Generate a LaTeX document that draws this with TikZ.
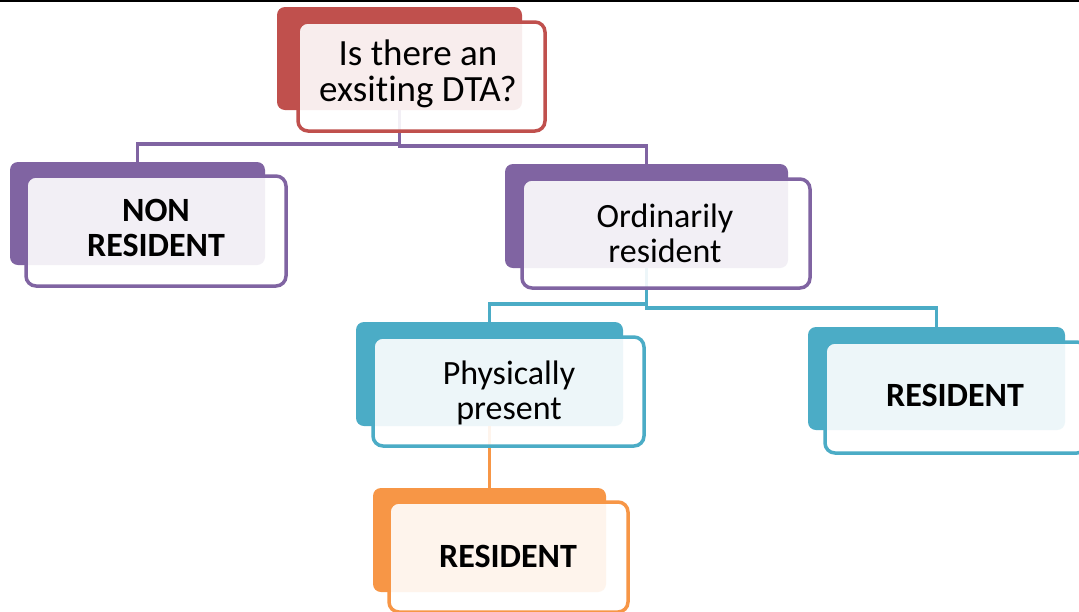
\documentclass[tikz,border=0pt]{standalone}
\usepackage{fontspec}
\setmainfont{Carlito}[Ligatures=NoCommon]
\definecolor{cRed}{HTML}{C0504D}
\definecolor{cPurple}{HTML}{8064A2}
\definecolor{cBlue}{HTML}{4BACC6}
\definecolor{cOrange}{HTML}{F79646}
\begin{document}
\begin{tikzpicture}[x=1pt,y=-1pt,
  backbox/.style={rectangle, rounded corners=8pt, fill=#1, inner sep=0pt, outer sep=0pt, anchor=north west},
  frontbox/.style={rectangle, rounded corners=10pt, draw=#1, line width=3.5pt, fill=white, fill opacity=0.9, inner sep=0pt, outer sep=0pt, anchor=north west},
  conn/.style={draw=#1, line width=3.5pt},
  lbl/.style={font=\fontsize{34}{35}\selectfont, align=center, inner sep=0pt, text=black},
  blbl/.style={font=\fontsize{34}{35}\selectfont\bfseries, align=center, inner sep=0pt, text=black},
]
\useasboundingbox (0,0) rectangle (1079,611);
\clip (0,0) rectangle (1079,611);
\fill[white] (0,0) rectangle (1079,611);
\fill[black] (0,0) rectangle (1079,2);

% back boxes
\node[backbox=cRed, minimum width=245pt, minimum height=103pt] (qb) at (277,7) {};
\node[backbox=cPurple, minimum width=255pt, minimum height=103pt] (nb) at (10,162) {};
\node[backbox=cPurple, minimum width=283pt, minimum height=104pt] (ob) at (505,164) {};
\node[backbox=cBlue, minimum width=267pt, minimum height=104pt] (pb) at (356,322) {};
\node[backbox=cBlue, minimum width=257pt, minimum height=103pt] (rb) at (808,327) {};
\node[backbox=cOrange, minimum width=233pt, minimum height=104pt] (sb) at (373,488) {};

% connectors
\draw[conn=cPurple] (qb.south) -- ++(0,34) -| (nb.north);
\draw[conn=cPurple] (qb.south) -- ++(0,36) -| (ob.north);
\draw[conn=cBlue] (ob.south) -- ++(0,36) -| (pb.north);
\draw[conn=cBlue] (ob.south) -- ++(0,40) -| (rb.north);
\draw[conn=cOrange] (pb.south) -- (sb.north);

% front boxes
\node[frontbox=cRed, minimum width=247pt, minimum height=109pt] (qf) at (298,22) {};
\node[frontbox=cPurple, minimum width=260pt, minimum height=110pt] (nf) at (26,176) {};
\node[frontbox=cPurple, minimum width=288pt, minimum height=109pt] (of) at (522,179) {};
\node[frontbox=cBlue, minimum width=271pt, minimum height=109pt] (pf) at (373,337) {};
\node[frontbox=cBlue, minimum width=262pt, minimum height=111pt] (rf) at (825,342) {};
\node[frontbox=cOrange, minimum width=239pt, minimum height=110pt] (sf) at (389,502) {};

% texts
\node[lbl, font=\fontsize{37}{36}\selectfont] (qt) at (418,74) {Is there an\\exsiting DTA?};
\node[blbl] (nt) at (156,227.5) {NON\\RESIDENT};
\node[lbl] (ot) at (665,233) {Ordinarily\\resident};
\node[lbl] (physt) at (509,393) {Physically\\present};
\node[blbl, anchor=base] (rt) at (955,406) {RESIDENT};
\node[blbl, anchor=base] (st) at (508,567) {RESIDENT};
\end{tikzpicture}
\end{document}
